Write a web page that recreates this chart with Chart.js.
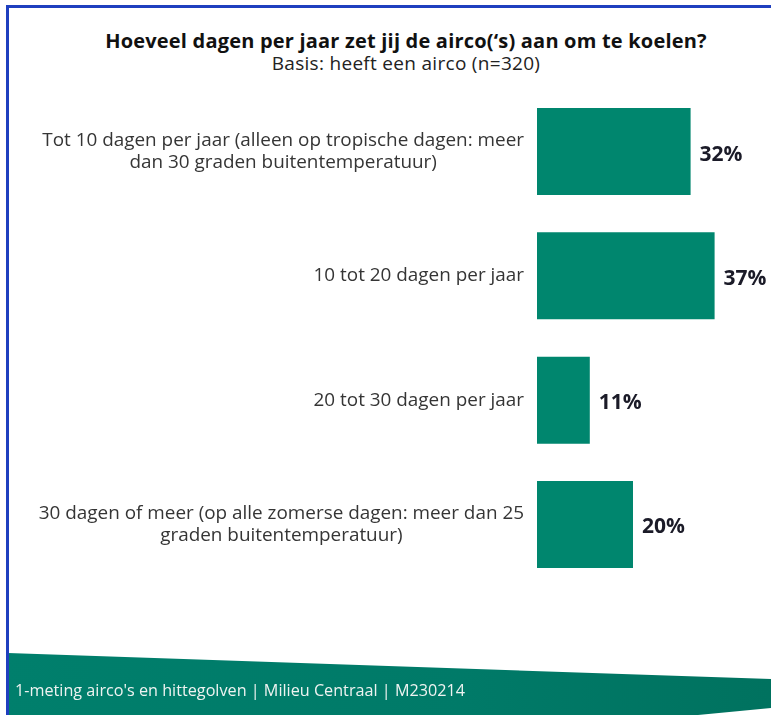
<!DOCTYPE html>
<html lang="nl">
<head>
<meta charset="utf-8">
<title>Airco gebruik</title>
<script src="https://cdn.jsdelivr.net/npm/chart.js@4/dist/chart.umd.min.js"></script>
<style>
    html, body { margin: 0; padding: 0; background: #fff; }
    #frame {
        position: relative;
        width: 771px;
        height: 715px;
        overflow: hidden;
        background: #fff;
        font-family: "Open Sans", "Noto Sans", sans-serif;
    }
    /* blauwe rand links en boven */
    #frame .border-top {
        position: absolute; left: 6px; top: 5px; right: 0; height: 3px; background: #1f3fbf;
    }
    #frame .border-left {
        position: absolute; left: 6px; top: 5px; bottom: 0; width: 3px; background: #1f3fbf; z-index: 3;
    }
    #title {
        position: absolute; top: 30px; left: 406px; transform: translateX(-50%);
        white-space: nowrap; text-align: center; color: #111;
    }
    #title .main { font-size: 20px; font-weight: 700; line-height: 22px; letter-spacing: 0.2px; }
    #title .sub { font-size: 19px; font-weight: 400; line-height: 22px; color: #222; letter-spacing: 0.3px; }
    #footer {
        position: absolute; left: 0; top: 0; width: 771px; height: 715px; z-index: 2;
        background: linear-gradient(90deg, #007f6c 0%, #007a68 60%, #00725f 100%);
        clip-path: polygon(8px 653px, 771px 679px, 771px 708px, 698px 715px, 8px 715px);
    }
    #footer-text {
        position: absolute; left: 15px; top: 679px; z-index: 3;
        color: #eef3f1; font-size: 16.2px; font-weight: 500; white-space: nowrap;
    }
    #chart { position: absolute; left: 0; top: 0; }
</style>
</head>
<body>
<div id="frame">
    <div class="border-top"></div>
    <div class="border-left"></div>
    <div id="title">
        <div class="main">Hoeveel dagen per jaar zet jij de airco(‘s) aan om te koelen?</div>
        <div class="sub">Basis: heeft een airco (n=320)</div>
    </div>
    <canvas id="chart" width="771" height="715"></canvas>
    <div id="footer"></div>
    <div id="footer-text">1-meting airco's en hittegolven | Milieu Centraal | M230214</div>
</div>

<script>
// Categorieën (met regelafbreking zoals in de bron)
const categories = [
    ['Tot 10 dagen per jaar (alleen op tropische dagen: meer', 'dan 30 graden buitentemperatuur)'],
    ['10 tot 20 dagen per jaar'],
    ['20 tot 30 dagen per jaar'],
    ['30 dagen of meer (op alle zomerse dagen: meer dan 25', 'graden buitentemperatuur)']
];
const percentages = [32, 37, 11, 20];

const barColor = '#00866e';
const labelFont = '18.9px "Open Sans", "Noto Sans", sans-serif';
const valueFont = 'bold 21px "Open Sans", "Noto Sans", sans-serif';

// Tekent de categorielabels links van de balken (rechts uitgelijnd blok, regels gecentreerd)
const categoryLabels = {
    id: 'categoryLabels',
    afterDatasetsDraw(chart) {
        const ctx = chart.ctx;
        const yScale = chart.scales.y;
        const rightEdge = chart.chartArea.left - 13;
        const lineHeight = 22;

        ctx.save();
        ctx.font = labelFont;
        ctx.fillStyle = '#353535';
        ctx.textAlign = 'center';
        ctx.textBaseline = 'middle';

        categories.forEach((lines, i) => {
            const y = yScale.getPixelForValue(i);
            const widest = Math.max(...lines.map(l => ctx.measureText(l).width));
            const cx = rightEdge - widest / 2;
            const startY = y - (lines.length - 1) * lineHeight / 2;
            lines.forEach((line, j) => {
                ctx.fillText(line, cx, startY + j * lineHeight);
            });
        });
        ctx.restore();
    }
};

// Percentages achter de balken
const valueLabels = {
    id: 'valueLabels',
    afterDatasetsDraw(chart) {
        const ctx = chart.ctx;
        const meta = chart.getDatasetMeta(0);

        ctx.save();
        ctx.font = valueFont;
        ctx.fillStyle = '#1b1b28';
        ctx.textAlign = 'left';
        ctx.textBaseline = 'middle';
        meta.data.forEach((bar, i) => {
            ctx.fillText(percentages[i] + '%', bar.x + 9, bar.y + 3);
        });
        ctx.restore();
    }
};

const ctx = document.getElementById('chart').getContext('2d');

new Chart(ctx, {
    type: 'bar',
    data: {
        labels: categories.map(c => c.join(' ')),
        datasets: [{
            data: percentages,
            backgroundColor: barColor,
            borderWidth: 0,
            barPercentage: 0.7,
            categoryPercentage: 1
        }]
    },
    options: {
        indexAxis: 'y',
        responsive: false,
        animation: false,
        layout: {
            padding: { left: 537, right: 3.6, top: 89.4, bottom: 128.4 }
        },
        plugins: {
            legend: { display: false },
            tooltip: { enabled: false },
            title: { display: false }
        },
        scales: {
            x: { display: false, min: 0, max: 48 },
            y: { display: false }
        }
    },
    plugins: [categoryLabels, valueLabels]
});
</script>
</body>
</html>
